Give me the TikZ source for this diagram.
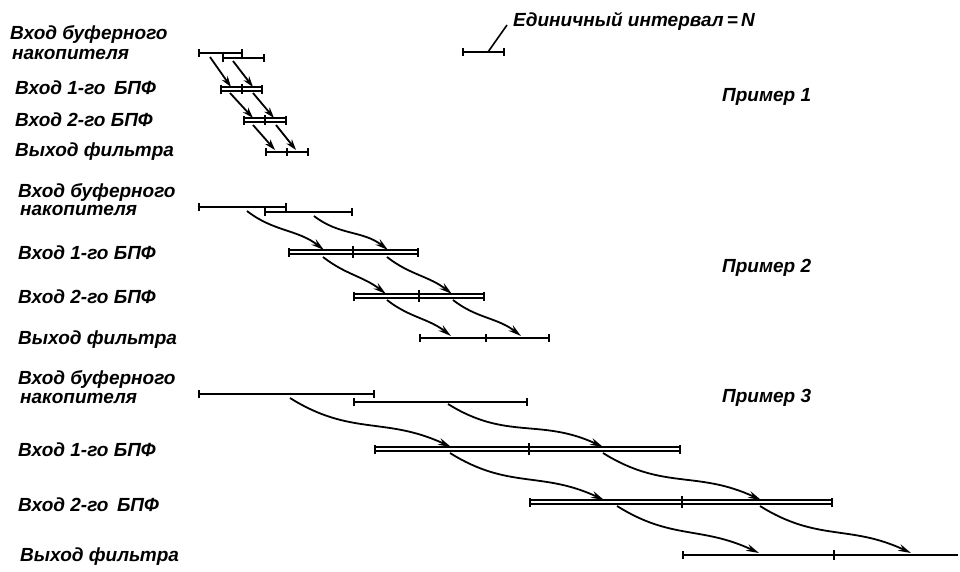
\documentclass[tikz,border=0pt]{standalone}
\usepackage{fontspec}
\setmainfont{Liberation Sans}
\usetikzlibrary{arrows.meta}
\begin{document}
\begin{tikzpicture}[x=1pt,y=-1pt,
  lab/.style={anchor=west,inner sep=0pt,font=\fontsize{19}{21}\selectfont\bfseries\itshape},
  bar/.style={line width=1.8pt,{Bar[width=8pt,line width=1.8pt]}-{Bar[width=8pt,line width=1.8pt]}},
  dbar/.style={line width=1.5pt,double,double distance=2.2pt,{Bar[width=9pt,line width=1.8pt]}-{Bar[width=9pt,line width=1.8pt]}},
  tick/.style={line width=1.8pt},
  sarr/.style={line width=1.8pt,-{Stealth[length=11pt,width=7pt]}},
  carr/.style={line width=1.8pt,-{Stealth[length=13pt,width=7pt]}},
]
\useasboundingbox (0,0) rectangle (960,571);

% unit interval
\coordinate (ua) at (462,52); \coordinate (ub) at (505,52);
\draw[bar] (ua) -- (ub);
\coordinate (um) at (488,52);
\node[lab] (unit) at (513,21) {Единичный интервал\,=\,N};
\draw[line width=1.6pt] (um) -- (507,25);

% ---------- labels ----------
\node[lab] (l1a) at (10,35) {Вход буферного};
\node[lab] (l1b) at (12,54) {накопителя};
\node[lab] (l1c) at (15,88) {Вход 1-го \,БПФ};
\node[lab] (l1d) at (15,120) {Вход 2-го БПФ};
\node[lab] (l1e) at (15,152) {Выход фильтра};

\node[lab] (l2a) at (18,192) {Вход буферного};
\node[lab] (l2b) at (20,210) {накопителя};
\node[lab] (l2c) at (18,253) {Вход 1-го БПФ};
\node[lab] (l2d) at (18,297) {Вход 2-го БПФ};
\node[lab] (l2e) at (18,340) {Выход фильтра};

\node[lab] (l3a) at (18,379) {Вход буферного};
\node[lab] (l3b) at (20,398) {накопителя};
\node[lab] (l3c) at (18,450) {Вход 1-го БПФ};
\node[lab] (l3d) at (18,505) {Вход 2-го \,БПФ};
\node[lab] (l3e) at (20,557) {Выход фильтра};

\node[lab] (p1) at (722,97) {Пример 1};
\node[lab] (p2) at (722,268) {Пример 2};
\node[lab] (p3) at (722,398) {Пример 3};

% ---------- example 1 ----------
\draw[bar] (198,53) -- (243,53);
\draw[bar] (222,58) -- (265,58);
\draw[dbar] (220,89) -- (263,89); \draw[tick] (242,84) -- (242,94);
\draw[dbar] (243,120) -- (287,120); \draw[tick] (265,115) -- (265,125);
\draw[bar] (265,152) -- (309,152); \draw[tick] (287,148) -- (287,156);
\coordinate (a1s) at (210,57); \coordinate (a1e) at (231,87);
\coordinate (a2s) at (233,61); \coordinate (a2e) at (253,87);
\coordinate (a3s) at (230,93); \coordinate (a3e) at (253,118);
\coordinate (a4s) at (253,93); \coordinate (a4e) at (274,118);
\coordinate (a5s) at (253,125); \coordinate (a5e) at (275,150);
\coordinate (a6s) at (276,125); \coordinate (a6e) at (296,150);
\foreach \i in {1,...,6} \draw[sarr] (a\i s) -- (a\i e);

% ---------- example 2 ----------
\draw[bar] (198,207) -- (287,207);
\draw[bar] (264,212) -- (353,212);
\draw[dbar] (288,252) -- (419,252); \draw[tick] (353,246) -- (353,258);
\draw[dbar] (353,296) -- (485,296); \draw[tick] (419,290) -- (419,302);
\draw[bar] (419,338) -- (550,338); \draw[tick] (486,334) -- (486,342);
\coordinate (b1s) at (247,211); \coordinate (b1e) at (324,250);
\coordinate (b2s) at (314,216); \coordinate (b2e) at (388,250);
\coordinate (b3s) at (323,257); \coordinate (b3e) at (386,294);
\coordinate (b4s) at (387,257); \coordinate (b4e) at (452,294);
\coordinate (b5s) at (387,300); \coordinate (b5e) at (451,336);
\coordinate (b6s) at (453,300); \coordinate (b6e) at (521,336);
\foreach \i in {1,...,6} \draw[carr] (b\i s) to[out=-38,in=142] (b\i e);

% ---------- example 3 ----------
\draw[bar] (198,394) -- (375,394);
\draw[bar] (353,402) -- (528,402);
\draw[dbar] (374,449) -- (681,449); \draw[tick] (529,443) -- (529,455);
\draw[dbar] (529,502) -- (833,502); \draw[tick] (682,496) -- (682,508);
\draw[line width=1.8pt,{Bar[width=8pt,line width=1.8pt]}-] (682,555) -- (958,555);
\draw[tick] (834,550) -- (834,560);
\coordinate (c1s) at (290,398); \coordinate (c1e) at (451,447);
\coordinate (c2s) at (448,404); \coordinate (c2e) at (603,447);
\coordinate (c3s) at (450,453); \coordinate (c3e) at (604,500);
\coordinate (c4s) at (603,453); \coordinate (c4e) at (761,500);
\coordinate (c5s) at (617,506); \coordinate (c5e) at (759,553);
\coordinate (c6s) at (760,506); \coordinate (c6e) at (911,553);
\foreach \i in {1,...,6} \draw[carr] (c\i s) to[out=-32,in=155,looseness=1.1] (c\i e);
\end{tikzpicture}
\end{document}
